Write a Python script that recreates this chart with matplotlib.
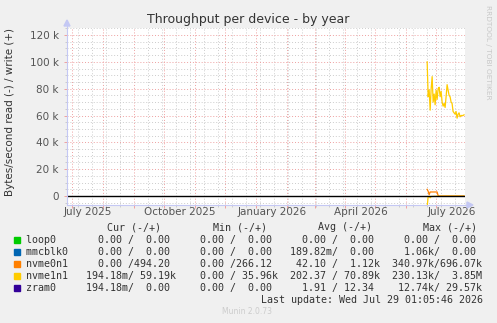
import matplotlib
matplotlib.use('Agg')
import matplotlib.pyplot as plt
import matplotlib.dates as mdates
from matplotlib.patches import Polygon, Rectangle
from matplotlib.lines import Line2D
from datetime import datetime, timedelta

# data (k bytes/s), daily values at the end of the year
series_start = datetime(2026, 6, 22)
nvme1n1_write = [100, 74, 79, 64, 80, 89, 70, 76, 68, 79, 72, 80, 81, 74, 78,
                 70, 67, 69, 66, 74, 83, 79, 75, 74, 70, 69, 63, 62, 61, 63,
                 58, 61, 62, 59, 60, 60, 60, 60.5]
nvme1n1_read = [8, 0.5, 0.3, 1.3, 0.4, 0.3, 0.3, 0.2, 0.2, 0.2, 0.2, 0.2, 0.2,
                0.2, 0.2, 0.2, 0.2, 0.2, 0.2, 0.2, 0.2, 0.2, 0.2, 0.2, 0.2,
                0.2, 0.2, 0.2, 0.2, 0.2, 0.2, 0.2, 0.2, 0.2, 0.2, 0.2, 0.2, 0.2]
nvme0n1_write = [5, 3.5, 1, 3, 3, 3, 3, 3, 3, 3, 3, 0.3, 0, 0, 0, 0,
                 0, 0, 0, 0, 0, 0, 0, 0, 0, 0, 0, 0,
                 0, 0, 0, 0, 0, 0, 0, 0, 0, 0]

y_ticks = [0, 20, 40, 60, 80, 100, 120]
y_labels = ['0', '20 k', '40 k', '60 k', '80 k', '100 k', '120 k']
x_labels = ['July 2025', 'October 2025', 'January 2026', 'April 2026', 'July 2026']
x_label_months = [datetime(2025, 7, 1), datetime(2025, 10, 1), datetime(2026, 1, 1),
                  datetime(2026, 4, 1), datetime(2026, 7, 1)]

names = ['loop0', 'mmcblk0', 'nvme0n1', 'nvme1n1', 'zram0']
colors = ['#00cc00', '#0066b3', '#ff8000', '#ffcc00', '#330099']
cur = [('0.00 ', '0.00 '), ('0.00 ', '0.00 '), ('0.00 ', '494.20 '),
       ('194.18m', '59.19k'), ('194.18m', '0.00 ')]
mins = [('0.00 ', '0.00 '), ('0.00 ', '0.00 '), ('0.00 ', '266.12 '),
        ('0.00 ', '35.96k'), ('0.00 ', '0.00 ')]
avgs = [('0.00 ', '0.00 '), ('189.82m', '0.00 '), ('42.10 ', '1.12k'),
        ('202.37 ', '70.89k'), ('1.91 ', '12.34 ')]
maxs = [('0.00 ', '0.00 '), ('1.06k', '0.00 '), ('340.97k', '696.07k'),
        ('230.13k', '3.85M'), ('12.74k', '29.57k')]

W, H = 497, 323


def fx(px):
    return px / W


def fy(py):
    return 1 - py / H


fig = plt.figure(figsize=(W / 100, H / 100), dpi=100, facecolor='#f0f0f0')
ax = fig.add_axes([fx(67), fy(205), fx(465) - fx(67), fy(27.5) - fy(205)])
ax.set_facecolor('white')

days = [series_start + timedelta(days=i) for i in range(len(nvme1n1_write))]
ax.plot(days, [v * 1000 for v in nvme0n1_write], color='#ff8000', lw=0.9, zorder=3)
ax.plot(days, [-v * 1000 for v in nvme1n1_read], color='#ffcc00', lw=0.9, zorder=3)
ax.plot(days, [v * 1000 for v in nvme1n1_write], color='#ffcc00', lw=0.9, zorder=3)
ax.axhline(0, color='black', lw=1.0, zorder=4)

ax.set_xlim(datetime(2025, 6, 25, 17), datetime(2026, 7, 29, 23))
ax.set_ylim(-6700, 125600)

# grid
ax.set_yticks([v * 1000 for v in y_ticks])
ax.set_yticklabels(y_labels)
ax.set_yticks(range(-5000, 126000, 5000), minor=True)
ax.xaxis.set_major_locator(mdates.MonthLocator())
ax.xaxis.set_minor_locator(mdates.WeekdayLocator(byweekday=mdates.MO, interval=2))
ax.xaxis.set_major_formatter(plt.NullFormatter())
ax.grid(which='major', color='#eea0a0', linestyle=(0, (1, 2)), lw=0.7)
ax.grid(which='minor', color='#cccccc', linestyle=(0, (1, 2)), lw=0.7)
ax.set_axisbelow(True)
ax.tick_params(which='major', length=2.5, width=0.7, color='#eea0a0',
               labelsize=7.5, labelcolor='#555555', pad=3.4)
ax.tick_params(which='minor', length=1.5, width=0.7, color='#cccccc')

for lbl, m in zip(x_labels, x_label_months):
    ax.text(m + timedelta(days=16), -0.04, lbl, transform=ax.get_xaxis_transform(),
            ha='center', va='center', fontsize=7.5, color='#555555')

for s in ['top', 'right', 'left', 'bottom']:
    ax.spines[s].set_visible(False)

# axis lines with arrows
axis_col = '#c4c8f4'
fig.add_artist(Line2D([fx(67), fx(468)], [fy(205), fy(205)], color=axis_col, lw=0.8))
fig.add_artist(Line2D([fx(67), fx(67)], [fy(205), fy(25)], color=axis_col, lw=0.8))
fig.add_artist(Polygon([(fx(64), fy(26)), (fx(70), fy(26)), (fx(67), fy(20))],
                       closed=True, color=axis_col))
fig.add_artist(Polygon([(fx(467), fy(202)), (fx(467), fy(208)), (fx(473), fy(205))],
                       closed=True, color=axis_col))

fig.text(fx(248), fy(19), 'Throughput per device - by year', ha='center', va='center',
         fontsize=9, color='#333333')
fig.text(fx(10), fy(112), 'Bytes/second read (-) / write (+)', rotation=90,
         ha='center', va='center', fontsize=7.5, color='#333333')
fig.text(fx(488), fy(5), 'RRDTOOL / TOBI OETIKER', rotation=270, ha='center', va='top',
         fontsize=5.3, color='#c8c8c8')

# legend
mono = dict(family='DejaVu Sans Mono', fontsize=7.2, color='#333333', va='center')
for hdr, px in zip(['Cur (-/+)', 'Min (-/+)', 'Avg (-/+)', 'Max (-/+)'],
                   [107.3, 213, 318.3, 422.7]):
    fig.text(fx(px), fy(227.3), hdr, ha='left', **mono)

row_y = [239.7, 251.7, 263.7, 275.7, 287.7]
for i, name in enumerate(names):
    line = name.ljust(10)
    for col in (cur, mins, avgs, maxs):
        r, w = col[i]
        line += r.rjust(7) + '/' + w.rjust(7) + '  '
    fig.text(fx(26), fy(row_y[i]), line.rstrip(), ha='left', **mono)
    fig.add_artist(Rectangle((fx(14), fy(row_y[i] + 3)), 6 / W, 6 / H,
                             color=colors[i]))

fig.text(fx(483), fy(299.7), 'Last update: Wed Jul 29 01:05:46 2026', ha='right', **mono)
fig.text(fx(247.5), fy(311.7), 'Munin 2.0.73', ha='center', va='center',
         fontsize=5.5, color='#cccccc')

fig.savefig('out.png', dpi=100, facecolor=fig.get_facecolor())
